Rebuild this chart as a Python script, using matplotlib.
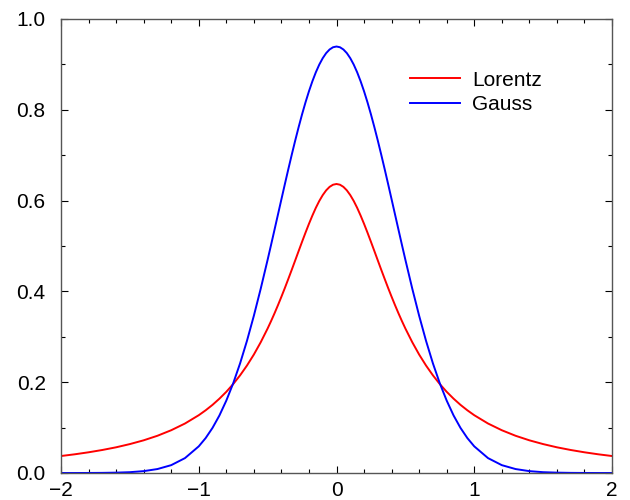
import matplotlib
matplotlib.use("Agg")
import matplotlib.pyplot as plt
from matplotlib.ticker import MultipleLocator

plt.rcParams["font.family"] = ["Liberation Sans", "DejaVu Sans"]

# ==== values ====
x_vals = [-2.0, -1.9, -1.8, -1.7, -1.6, -1.5, -1.4, -1.3, -1.2, -1.1,
          -1.0, -0.95, -0.9, -0.85, -0.8, -0.75, -0.7, -0.65, -0.6, -0.55,
          -0.5, -0.475, -0.45, -0.425, -0.4, -0.375, -0.35, -0.325, -0.3, -0.275,
          -0.25, -0.225, -0.2, -0.175, -0.15, -0.125, -0.1, -0.075, -0.05, -0.025,
          0.0, 0.025, 0.05, 0.075, 0.1, 0.125, 0.15, 0.175, 0.2, 0.225,
          0.25, 0.275, 0.3, 0.325, 0.35, 0.375, 0.4, 0.425, 0.45, 0.475,
          0.5, 0.55, 0.6, 0.65, 0.7, 0.75, 0.8, 0.85, 0.9, 0.95,
          1.0, 1.1, 1.2, 1.3, 1.4, 1.5, 1.6, 1.7, 1.8, 1.9, 2.0]

lorentz_vals = [0.0374, 0.0412, 0.0456, 0.0507, 0.0566, 0.0637, 0.0720, 0.0820, 0.0942, 0.1090,
                0.1273, 0.1381, 0.1501, 0.1637, 0.1788, 0.1959, 0.2151, 0.2367, 0.2609, 0.2881,
                0.3183, 0.3346, 0.3517, 0.3696, 0.3882, 0.4074, 0.4273, 0.4475, 0.4681, 0.4888,
                0.5093, 0.5294, 0.5488, 0.5671, 0.5841, 0.5992, 0.6121, 0.6226, 0.6303, 0.6350,
                0.6366, 0.6350, 0.6303, 0.6226, 0.6121, 0.5992, 0.5841, 0.5671, 0.5488, 0.5294,
                0.5093, 0.4888, 0.4681, 0.4475, 0.4273, 0.4074, 0.3882, 0.3696, 0.3517, 0.3346,
                0.3183, 0.2881, 0.2609, 0.2367, 0.2151, 0.1959, 0.1788, 0.1637, 0.1501, 0.1381,
                0.1273, 0.1090, 0.0942, 0.0820, 0.0720, 0.0637, 0.0566, 0.0507, 0.0456, 0.0412, 0.0374]

gauss_vals = [0.0000, 0.0000, 0.0001, 0.0003, 0.0008, 0.0018, 0.0041, 0.0087, 0.0173, 0.0328,
              0.0587, 0.0769, 0.0994, 0.1267, 0.1594, 0.1975, 0.2414, 0.2911, 0.3463, 0.4061,
              0.4697, 0.5025, 0.5358, 0.5693, 0.6028, 0.6361, 0.6689, 0.7009, 0.7320, 0.7617,
              0.7900, 0.8164, 0.8408, 0.8629, 0.8826, 0.8996, 0.9137, 0.9249, 0.9329, 0.9378,
              0.9394, 0.9378, 0.9329, 0.9249, 0.9137, 0.8996, 0.8826, 0.8629, 0.8408, 0.8164,
              0.7900, 0.7617, 0.7320, 0.7009, 0.6689, 0.6361, 0.6028, 0.5693, 0.5358, 0.5025,
              0.4697, 0.4061, 0.3463, 0.2911, 0.2414, 0.1975, 0.1594, 0.1267, 0.0994, 0.0769,
              0.0587, 0.0328, 0.0173, 0.0087, 0.0041, 0.0018, 0.0008, 0.0003, 0.0001, 0.0000, 0.0000]

x_ticks = [-2, -1, 0, 1, 2]
x_tick_labels = ["\u22122", "\u22121", "0", "1", "2"]
y_ticks = [0.0, 0.2, 0.4, 0.6, 0.8, 1.0]
y_tick_labels = ["0.0", "0.2", "0.4", "0.6", "0.8", "1.0"]

# ==== plot ====
fig = plt.figure(figsize=(6.3, 5.0), dpi=100)
ax = fig.add_axes([61 / 630, 1 - 473 / 500, 551 / 630, 454 / 500])

ax.plot(x_vals, lorentz_vals, color="#ff0000", lw=1.4, label="Lorentz")
ax.plot(x_vals, gauss_vals, color="#0000ff", lw=1.4, label="Gauss")

ax.set_xlim(-2, 2)
ax.set_ylim(0, 1)
ax.set_xticks(x_ticks)
ax.set_xticklabels(x_tick_labels)
ax.set_yticks(y_ticks)
ax.set_yticklabels(y_tick_labels)
ax.xaxis.set_minor_locator(MultipleLocator(0.2))
ax.yaxis.set_minor_locator(MultipleLocator(0.1))
ax.tick_params(which="both", direction="in", top=True, right=True, labelsize=15, width=0.8)
ax.tick_params(which="major", length=5)
ax.tick_params(axis="y", which="major", pad=11)
ax.tick_params(axis="x", which="major", pad=6)
ax.tick_params(which="minor", length=3)
for s in ax.spines.values():
    s.set_linewidth(1.0)
    s.set_color("#555555")

ax.legend(loc="upper left", bbox_to_anchor=(0.633, 0.886), frameon=False, fontsize=15,
          borderpad=0, borderaxespad=0, handlelength=2.4, handletextpad=0.6, labelspacing=0.25)

fig.savefig("out.png", dpi=100)
